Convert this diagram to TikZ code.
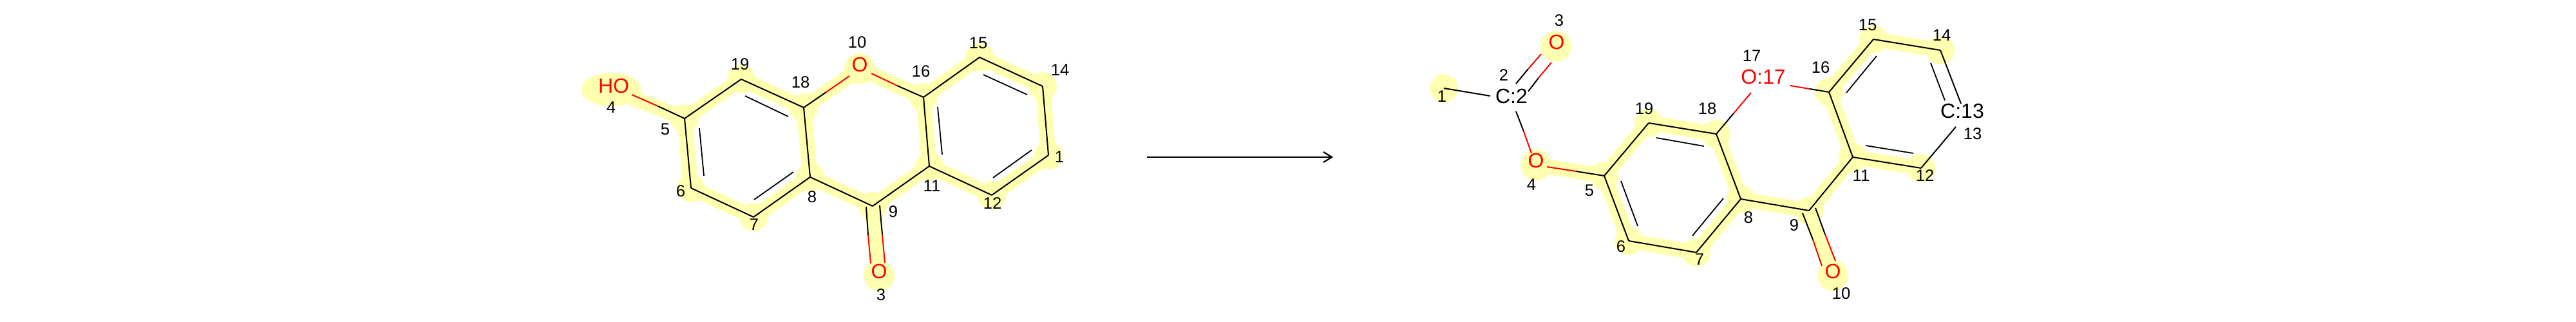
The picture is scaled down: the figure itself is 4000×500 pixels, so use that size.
\documentclass[tikz,border=0pt]{standalone}
\usepackage{fontspec}
\setmainfont{Liberation Sans}
\usetikzlibrary{calc}
\definecolor{hl}{RGB}{255,255,176}
\definecolor{hetred}{RGB}{255,0,0}
\tikzset{
 x=1pt,y=-1pt,
 bondline/.style={draw=black,line width=2pt},
 innerline/.style={draw=black,line width=1.8pt},
 redline/.style={draw=hetred,line width=2pt},
 glow/.style={draw=hl,line width=23.5pt},
 glowdisc/.style={circle,fill=hl,draw=none,minimum size=44pt,inner sep=0pt},
 glowo/.style={circle,fill=hl,draw=none,minimum size=48pt,inner sep=0pt},
 num/.style={font=\fontsize{25.6pt}{26pt}\selectfont,inner sep=0pt,text=black},
 atomo/.style={font=\fontsize{32pt}{32pt}\selectfont,inner sep=0pt,text=hetred},
 atomc/.style={font=\fontsize{32pt}{32pt}\selectfont,inner sep=0pt,text=black},
 flow/.style={draw=black,line width=2.2pt},
}
\begin{document}
\begin{tikzpicture}
\useasboundingbox (0,0) rectangle (4000,500);
% --- reactant atoms
\foreach \n/\x/\y in {a5/1063/184,a19/1151/123,a18/1248/167,a6/1073/292,a7/1170/337,a8/1258/275,a16/1434/151,a15/1521/89,a14/1619/134,a1/1628/241,a11/1443/258,a12/1540/303,a9/1355/320,aOten/1335/107,aOthree/1365/428,aHO/949/139}
 {\coordinate (\n) at (\x,\y);}
% --- product atoms
\foreach \n/\x/\y in {b1/2242/137,bCtwo/2347/149,bOthree/2416/72,bOfour/2385/256,b5/2491/273,b19/2560/191,b6/2529/374,b7/2634/392,b8/2703/309,b18/2665/208,bOsev/2738/125,b16/2840/143,b15/2909/61,b14/3013/78,bCthir/3047/172,b11/2877/244,b12/2983/261,b9/2809/327,bOten/2846/428}
 {\coordinate (\n) at (\x,\y);}
% --- highlight
\foreach \p/\q in {aHO/a5,a5/a19,a19/a18,a18/aOten,aOten/a16,a16/a15,a15/a14,a14/a1,a1/a12,a12/a11,a11/a16,a11/a9,a9/a8,a8/a18,a8/a7,a7/a6,a6/a5,a9/aOthree,
 bOfour/b5,b5/b19,b19/b18,b18/b8,b8/b7,b7/b6,b6/b5,b8/b9,b9/b11,b9/bOten,b11/b12,b11/b16,b16/b15,b15/b14}
 {\draw[glow] (\p) -- (\q);}
\foreach \n in {a5,a19,a18,a6,a7,a8,a16,a15,a14,a1,a11,a12,a9,b1,b5,b19,b6,b7,b8,b18,b16,b15,b14,b11,b12,b9}
 {\node[glowdisc] at (\n) {};}
\foreach \n in {aOten,aOthree,bOthree,bOfour,bOten}
 {\node[glowo] at (\n) {};}
\fill[hl] (aHO) ellipse [x radius=46.5,y radius=26];
% --- atom labels
\node[atomo] (tHO) at (953,133) {HO};
\node[atomo] (tOten) at (1335,100) {O};
\node[atomo] (tOthree) at (1365,421) {O};
\node[atomc] (tCtwo) at (2347,149) {C:2};
\node[atomo] (tOb3) at (2417,65) {O};
\node[atomo] (tOb4) at (2385,249) {O};
\node[atomo] (tOb17) at (2738,119) {O:17};
\node[atomc] (tCb13) at (3047,172) {C:13};
\node[atomo] (tOb10) at (2846,421) {O};
% --- bond end points near labels and colour changes
\foreach \n/\x/\y in {
 e1/981/147,e2/1022/165,e3/1283/143,e4/1319/118,e5/1353/114,e6/1393/133,
 f1/1345/321,f2/1348/365,f3/1352/409,f4/1366/319,f5/1370/364,f6/1374/408,
 g1/2314/149,g2/2354/130,g3/2373/107,g4/2393/84,g5/2373/142,g6/2389/121,g7/2409/97,
 g8/2354/173,g9/2366/204,g10/2378/238,g11/2402/259,g12/2447/266,
 h1/2692/176,h2/2719/144,h3/2780/133,h4/2810/138,
 h5/2799/331,h6/2815/372,h7/2829/413,h8/2819/323,h9/2834/364,h10/2850/405,
 i1/3045/161,i2/3037/197}
 {\coordinate (\n) at (\x,\y);}
% --- inner lines of double bonds
\foreach \n/\x/\y/\u/\v in {
 j1/1157/149/1224/181,j2/1086/199/1093/273,j3/1171/310/1232/267,j4/1456/166/1463/240,j5/1527/116/1595/147,j6/1602/233/1542/276,
 k1/2572/214/2646/227,k2/2517/281/2543/351,k3/2628/366/2676/308,k4/2867/144/2914/87,k5/2998/98/3020/156,k6/2897/226/2971/238}
 {\coordinate (\n s) at (\x,\y);\coordinate (\n e) at (\u,\v);\draw[innerline] (\n s) -- (\n e);}
% --- plain bonds
\foreach \p/\q in {a5/a19,a19/a18,a5/a6,a6/a7,a7/a8,a8/a18,a16/a15,a15/a14,a14/a1,a1/a12,a12/a11,a11/a16,a11/a9,a9/a8,
 b1/g1,b5/b19,b19/b18,b18/b8,b8/b7,b7/b6,b6/b5,b8/b9,b9/b11,b11/b12,b11/b16,b16/b15,b15/b14,b14/i1,i2/b12}
 {\draw[bondline] (\p) -- (\q);}
% --- two-colour bonds
\foreach \p/\q in {e2/a5,a18/e3,e6/a16,f1/f2,f4/f5,g2/g3,g5/g6,g8/g9,g12/b5,b18/h1,h4/b16,h5/h6,h8/h9}
 {\draw[bondline] (\p) -- (\q);}
\foreach \p/\q in {e1/e2,e3/e4,e5/e6,f2/f3,f5/f6,g3/g4,g6/g7,g9/g10,g11/g12,h1/h2,h3/h4,h6/h7,h9/h10}
 {\draw[redline] (\p) -- (\q);}
% --- reaction arrow
\coordinate (arrS) at (1781,244);
\coordinate (arrE) at (2068,244);
\coordinate (arrU) at (2055,236);
\coordinate (arrD) at (2055,252);
\draw[flow] (arrS) -- (arrE);
\draw[flow] (arrU) -- (arrE) -- (arrD);
% --- atom numbers
\foreach \n/\x/\y/\t in {
 nA/949/167/4,nB/1033/201/5,nC/1149/100/19,nD/1243/128/18,nE/1057/297/6,nF/1171/349/7,nG/1261/306/8,
 nH/1331/66/10,nI/1430/111/16,nJ/1519/67/15,nK/1646/109/14,nL/1645/244/1,nM/1447/289/11,nN/1541/316/12,nO/1387/329/9,nP/1368/458/3,
 mA/2239/150/1,mB/2335/117/2,mC/2421/32/3,mD/2553/169/19,mE/2378/287/4,mF/2468/296/5,mG/2517/383/6,mH/2639/403/7,
 mI/2715/338/8,mJ/2786/350/9,mK/2859/456/10,mL/2890/273/11,mM/2989/273/12,mN/2720/87/17,mO/2651/169/18,mP/2827/105/16,
 mQ/2900/39/15,mR/3015/55/14,mS/3063/208/13}
 {\node[num] (\n) at (\x,\y) {\t};}
\end{tikzpicture}
\end{document}
